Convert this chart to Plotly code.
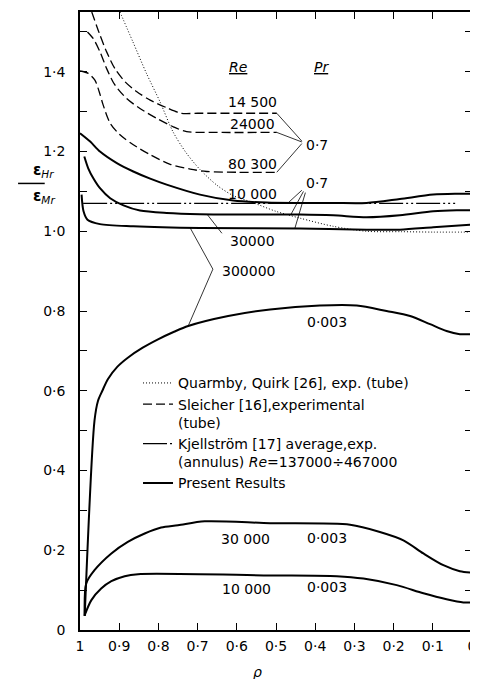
import numpy as np
import plotly.graph_objects as go

# ---------------- data ----------------
# Quarmby, Quirk – experimental (tube), dotted
rho_quarmby = [0.898, 0.865, 0.83, 0.796, 0.763, 0.73, 0.694, 0.65, 0.61, 0.559, 0.5, 0.439, 0.354, 0.269, 0.18, 0.10, 0.0]
eps_quarmby = [1.55, 1.475, 1.395, 1.325, 1.25, 1.198, 1.155, 1.115, 1.09, 1.072, 1.05, 1.033, 1.0125, 1.0, 0.999, 0.998, 0.998]

# Sleicher – experimental (tube), dashed, Pr = 0.7
rho_s14500 = [0.970, 0.949, 0.932, 0.911, 0.885, 0.855, 0.821, 0.779, 0.741, 0.70, 0.60, 0.498]
eps_s14500 = [1.55, 1.492, 1.45, 1.408, 1.375, 1.35, 1.329, 1.31, 1.296, 1.296, 1.296, 1.296]
rho_s24000 = [0.981, 0.966, 0.949, 0.932, 0.911, 0.881, 0.847, 0.804, 0.762, 0.728, 0.65, 0.498]
eps_s24000 = [1.50, 1.483, 1.45, 1.408, 1.367, 1.333, 1.308, 1.283, 1.262, 1.25, 1.248, 1.248]
rho_s80300 = [1.0, 0.979, 0.962, 0.951, 0.941, 0.923, 0.898, 0.864, 0.821, 0.770, 0.719, 0.677, 0.60, 0.498]
eps_s80300 = [1.402, 1.396, 1.379, 1.35, 1.317, 1.271, 1.242, 1.217, 1.192, 1.168, 1.156, 1.15, 1.148, 1.148]

# Kjellström – average, experimental (annulus)
rho_kjell = [0.992, 0.043]
eps_kjell = [1.07, 1.07]

# Present results, Pr = 0.7
rho_p10000 = [1.0, 0.974, 0.949, 0.906, 0.864, 0.821, 0.779, 0.694, 0.609, 0.524, 0.439, 0.354, 0.269, 0.184, 0.099, 0.039, 0.0]
eps_p10000 = [1.246, 1.225, 1.2, 1.171, 1.15, 1.132, 1.117, 1.092, 1.077, 1.072, 1.071, 1.071, 1.071, 1.081, 1.092, 1.094, 1.094]
rho_p30000 = [0.989, 0.979, 0.966, 0.949, 0.923, 0.889, 0.847, 0.779, 0.694, 0.50, 0.439, 0.354, 0.269, 0.184, 0.099, 0.039, 0.0]
eps_p30000 = [1.1875, 1.158, 1.133, 1.108, 1.083, 1.065, 1.052, 1.046, 1.043, 1.042, 1.042, 1.04, 1.035, 1.04, 1.05, 1.0525, 1.0525]
rho_p300000 = [0.996, 0.991, 0.981, 0.949, 0.864, 0.694, 0.439, 0.269, 0.184, 0.099, 0.0]
eps_p300000 = [1.092, 1.05, 1.029, 1.018, 1.0125, 1.008, 1.007, 1.004, 1.004, 1.01, 1.017]

# Present results, Pr = 0.003
rho_l300000 = [0.988, 0.963, 0.954, 0.943, 0.929, 0.905, 0.878, 0.84, 0.801, 0.76, 0.724, 0.622, 0.515, 0.388, 0.294, 0.218, 0.158, 0.107, 0.065, 0.031, 0.0]
eps_l300000 = [0.035, 0.525, 0.575, 0.60, 0.629, 0.66, 0.683, 0.708, 0.729, 0.748, 0.7625, 0.7875, 0.804, 0.814, 0.814, 0.80, 0.7875, 0.767, 0.75, 0.742, 0.742]
rho_l30000 = [0.988, 0.984, 0.963, 0.92, 0.878, 0.835, 0.793, 0.75, 0.682, 0.515, 0.311, 0.235, 0.175, 0.124, 0.073, 0.031, 0.0]
eps_l30000 = [0.035, 0.117, 0.15, 0.192, 0.221, 0.242, 0.257, 0.2625, 0.2725, 0.268, 0.264, 0.246, 0.225, 0.192, 0.1625, 0.1475, 0.144]
rho_l10000 = [0.988, 0.971, 0.946, 0.92, 0.886, 0.852, 0.515, 0.345, 0.277, 0.192, 0.124, 0.065, 0.022, 0.0]
eps_l10000 = [0.0375, 0.075, 0.104, 0.1225, 0.135, 0.14, 0.137, 0.135, 0.129, 0.1125, 0.092, 0.077, 0.069, 0.069]

# axis ticks
x_tickvals = [1.0, 0.9, 0.8, 0.7, 0.6, 0.5, 0.4, 0.3, 0.2, 0.1, 0.0]
x_ticktext = ["1", "0·9", "0·8", "0·7", "0·6", "0·5", "0·4", "0·3", "0·2", "0·1", "0"]
y_tickvals = [0.0, 0.2, 0.4, 0.6, 0.8, 1.0, 1.2, 1.4]
y_ticktext = ["0", "0·2", "0·4", "0·6", "0·8", "1·0", "1·2", "1·4"]
y_minorvals = [0.1, 0.3, 0.5, 0.7, 0.9, 1.1, 1.3, 1.5]

# ---------------- figure ----------------
FONT = "DejaVu Sans"
fig = go.Figure()

fig.add_trace(go.Scatter(x=rho_quarmby, y=eps_quarmby, mode="lines",
                         line=dict(color="black", width=1, dash="1px,2px", shape="spline", smoothing=0.8),
                         name="Quarmby, Quirk [26], exp. (tube)", legendrank=1))

dash_s = "9px,4px"
for i, (r, e) in enumerate([(rho_s14500, eps_s14500), (rho_s24000, eps_s24000), (rho_s80300, eps_s80300)]):
    fig.add_trace(go.Scatter(x=r, y=e, mode="lines",
                             line=dict(color="black", width=1.3, dash=dash_s, shape="spline", smoothing=0.8),
                             name="Sleicher [16],experimental<br>(tube)", legendgroup="s",
                             showlegend=(i == 0), legendrank=2))

fig.add_trace(go.Scatter(x=rho_kjell, y=eps_kjell, mode="lines",
                         line=dict(color="black", width=1.2, dash="24px,3px,2px,3px,2px,3px"),
                         name="Kjellström [17] average,exp.<br>(annulus) <i>Re</i>=137000÷467000", legendrank=3))

present = [(rho_p10000, eps_p10000), (rho_p30000, eps_p30000), (rho_p300000, eps_p300000),
           (rho_l300000, eps_l300000), (rho_l30000, eps_l30000), (rho_l10000, eps_l10000)]
for i, (r, e) in enumerate(present):
    fig.add_trace(go.Scatter(x=r, y=e, mode="lines",
                             line=dict(color="black", width=2, shape="spline", smoothing=0.8),
                             name="Present Results", legendgroup="p",
                             showlegend=(i == 0), legendrank=4))

# ---------------- labels ----------------
def lab(x, y, t, size=14):
    fig.add_annotation(x=x, y=y, xref="x", yref="y", text=t, showarrow=False,
                       font=dict(family=FONT, size=size, color="black"))

lab(0.597, 1.413, "<i><u>Re</u></i>")
lab(0.383, 1.413, "<i><u>Pr</u></i>")
lab(0.559, 1.325, "14 500")
lab(0.559, 1.270, "24000")
lab(0.559, 1.170, "80 300")
lab(0.395, 1.217, "0·7")
lab(0.559, 1.093, "10 000")
lab(0.395, 1.121, "0·7")
lab(0.559, 0.975, "30000")
lab(0.571, 0.900, "300000")
lab(0.370, 0.773, "0·003")
lab(0.579, 0.229, "30 000")
lab(0.370, 0.232, "0·003")
lab(0.575, 0.104, "10 000")
lab(0.370, 0.108, "0·003")

# ---------------- leader lines ----------------
def seg(x0, y0, x1, y1):
    fig.add_shape(type="line", xref="x", yref="y", x0=x0, y0=y0, x1=x1, y1=y1,
                  line=dict(color="black", width=0.8))

def on(rr, ee, x):
    return float(np.interp(x, rr[::-1], ee[::-1]))

# Sleicher group -> 0.7
seg(rho_s14500[-1], eps_s14500[-1], 0.434, 1.226)
seg(rho_s24000[-1], eps_s24000[-1], 0.434, 1.224)
seg(rho_s80300[-1], eps_s80300[-1], 0.434, 1.220)
# present Pr 0.7 group -> 0.7
seg(0.434, 1.103, 0.469, on(rho_p10000, eps_p10000, 0.469))
seg(0.430, 1.100, 0.462, on(rho_p30000, eps_p30000, 0.462))
seg(0.425, 1.097, 0.452, on(rho_p300000, eps_p300000, 0.452))
# 30000 label
seg(0.638, 0.995, 0.676, on(rho_p30000, eps_p30000, 0.676))
# 300000 label
seg(0.661, 0.905, 0.719, on(rho_p300000, eps_p300000, 0.719))
seg(0.661, 0.905, 0.724, on(rho_l300000, eps_l300000, 0.724))

# ---------------- axis titles ----------------
BAR_Y = 0.7226
fig.add_annotation(xref="paper", yref="paper", x=-0.124, y=BAR_Y + 0.002, yanchor="bottom",
                   text="<b>ε</b><sub><i>Hr</i></sub>",
                   showarrow=False, font=dict(family=FONT, size=15, color="black"))
fig.add_annotation(xref="paper", yref="paper", x=-0.124, y=BAR_Y - 0.002, yanchor="top",
                   text="<b>ε</b><sub><i>Mr</i></sub>",
                   showarrow=False, font=dict(family=FONT, size=15, color="black"))
fig.add_shape(type="line", xref="paper", yref="paper", x0=-0.158, x1=-0.09, y0=BAR_Y, y1=BAR_Y,
              line=dict(color="black", width=1.5))
fig.add_annotation(xref="paper", yref="paper", x=0.454, y=-0.084, text="<i>ρ</i>",
                   showarrow=False, font=dict(family=FONT, size=14, color="black"))

axis_common = dict(showline=True, linecolor="black", linewidth=1.5, mirror="ticks",
                   ticks="inside", ticklen=7, tickwidth=1.2, tickcolor="black",
                   showgrid=False, zeroline=False, ticklabeloverflow="allow",
                   tickfont=dict(family=FONT, size=14, color="black"))

# The page body has an 8 px margin, so the figure is 8 px smaller and
# its left/top margins are 8 px less, keeping the plot frame at 80..472 x 10..630.
fig.update_layout(
    width=470, height=671,
    margin=dict(l=72, r=6, t=2, b=49),
    paper_bgcolor="white", plot_bgcolor="white",
    font=dict(family=FONT, size=13, color="black"),
    xaxis=dict(range=[1, 0], tickmode="array", tickvals=x_tickvals, ticktext=x_ticktext,
               ticklabelstandoff=2, **axis_common),
    yaxis=dict(range=[0, 1.55], tickmode="array", tickvals=y_tickvals, ticktext=y_ticktext,
               ticklabelstandoff=10,
               minor=dict(tickvals=y_minorvals, ticks="inside", ticklen=7, tickwidth=1.2, tickcolor="black"),
               **axis_common),
    showlegend=True,
    legend=dict(x=0.148, y=0.425, xanchor="left", yanchor="top", bgcolor="rgba(0,0,0,0)",
                borderwidth=0, font=dict(family=FONT, size=14, color="black"),
                valign="top", tracegroupgap=0, traceorder="normal"),
)

fig.write_html("out.html")
